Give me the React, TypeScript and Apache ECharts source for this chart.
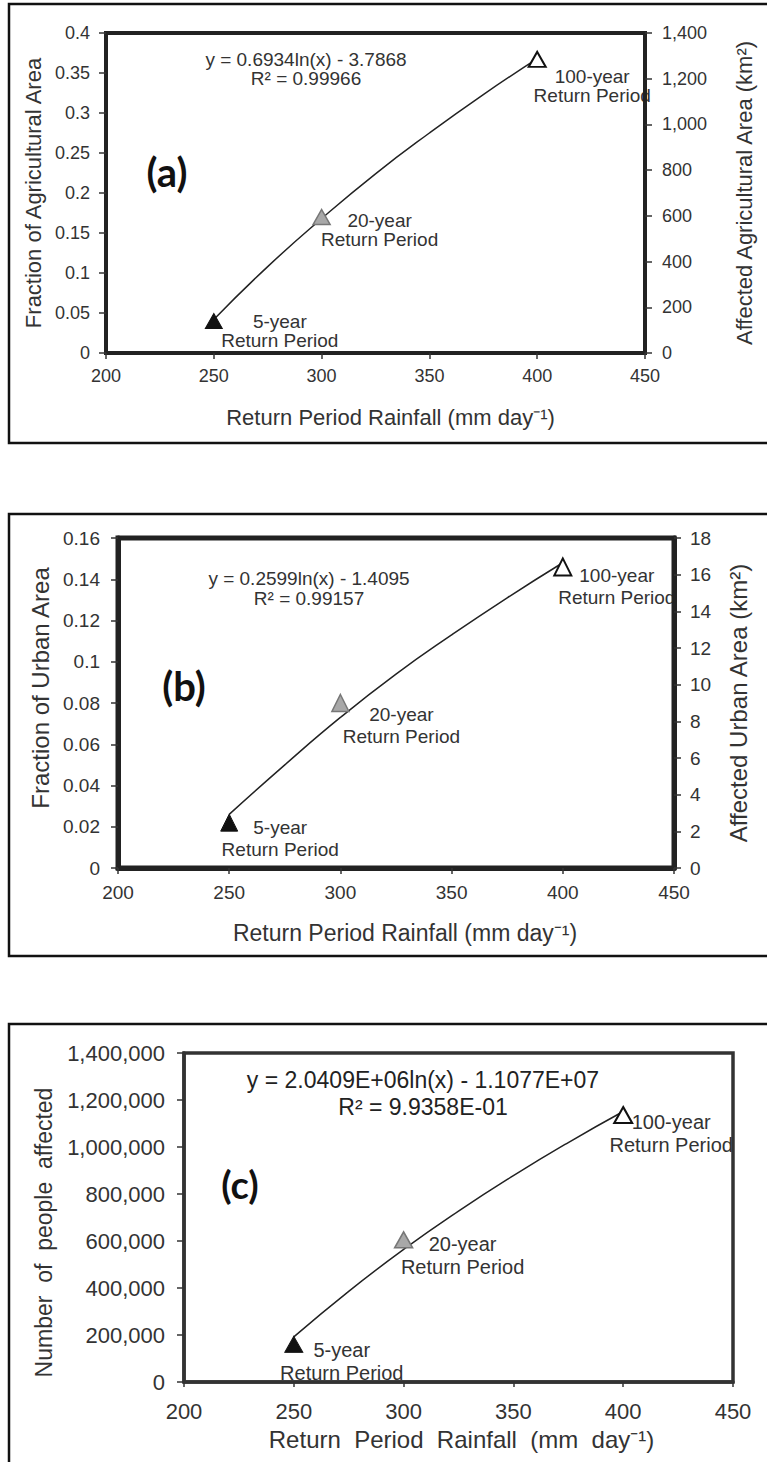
import React, { useEffect, useRef } from "react";
import * as echarts from "echarts";

// ---------- data ----------
const returnPeriods = ["5-year", "20-year", "100-year"];
const rainfall = [250, 300, 400];
const agriFraction = [0.04, 0.17, 0.367];
const urbanFraction = [0.022, 0.08, 0.146];
const peopleAffected = [160000, 605000, 1136000];

const trendX = [250, 275, 300, 325, 350, 375, 400];
const agriTrend = [0.042, 0.108, 0.168, 0.224, 0.275, 0.323, 0.368];
const urbanTrend = [0.026, 0.05, 0.073, 0.094, 0.113, 0.131, 0.148];
const peopleTrend = [192000, 386000, 564000, 727000, 878000, 1019000, 1151000];

const xTicks = { min: 200, max: 450, interval: 50 };
const agriAreaAxis = { min: 0, max: 1400, interval: 200 };
const urbanAreaAxis = { min: 0, max: 18, interval: 2 };

const equations = [
  "y = 0.6934ln(x) - 3.7868\nR² = 0.99966",
  "y = 0.2599ln(x) - 1.4095\nR² = 0.99157",
  "y = 2.0409E+06ln(x) - 1.1077E+07\nR² = 9.9358E-01",
];
const panelTags = ["(a)", "(b)", "(c)"];

// ---------- styles ----------
const FONT = "Liberation Sans, Arial, Helvetica, sans-serif";
const TAGFONT = "Lato, Open Sans, sans-serif";
const TXT = "#333";
const markerStyles = [
  { color: "#111", borderColor: "#111", borderWidth: 1, opacity: 1 },
  { color: "#a8a8a8", borderColor: "#777", borderWidth: 1.5, opacity: 1 },
  { color: "#fff", borderColor: "#111", borderWidth: 2, opacity: 1 },
];
const labelOffsets = [
  [[66, 9.5], [58, 12.5], [55, 26.5]],
  [[51, 15.5], [61, 22], [54, 20]],
  [[48, 17.5], [59, 15.5], [48, 18]],
];
const labelFont = [19, 19, 20];
const labelLH = [19, 22, 23];
const symbolSizes = [[17, 15], [17, 17], [18, 16]];

const fmtComma = (v: number) => Math.round(v).toLocaleString("en-US");

function buildScatter(vals: number[], p: number, xIdx: number, yIdx: number) {
  return {
    type: "scatter",
    xAxisIndex: xIdx,
    yAxisIndex: yIdx,
    z: 3,
    symbol: "triangle",
    symbolSize: symbolSizes[p],
    itemStyle: { opacity: 1 },
    data: vals.map((v, k) => ({
      name: returnPeriods[k],
      value: [rainfall[k], v],
      itemStyle: markerStyles[k],
      label: {
        show: true,
        position: "inside",
        offset: labelOffsets[p][k],
        formatter: `${returnPeriods[k]}\nReturn Period`,
        color: TXT,
        opacity: 1,
        textBorderWidth: 0,
        textBorderColor: "transparent",
        fontSize: labelFont[p],
        lineHeight: labelLH[p],
        fontFamily: FONT,
        align: "center",
        verticalAlign: "middle",
      },
    })),
  };
}

function buildTrend(vals: number[], xIdx: number, yIdx: number) {
  return {
    type: "line",
    xAxisIndex: xIdx,
    yAxisIndex: yIdx,
    z: 2,
    smooth: true,
    showSymbol: false,
    symbol: "none",
    lineStyle: { color: "#222", width: 1.5 },
    data: trendX.map((x, k) => [x, vals[k]]),
  };
}

function xAxis(grid: number, o: any) {
  return {
    gridIndex: grid,
    type: "value",
    ...xTicks,
    z: 6,
    axisLine: { show: true, onZero: false, lineStyle: { color: o.lineColor, width: o.lw } },
    axisTick: { show: true, inside: false, length: o.tickLen, lineStyle: { color: "#333", width: 1.5 } },
    axisLabel: { fontSize: o.fs, color: TXT, margin: o.margin, fontFamily: FONT },
    splitLine: { show: false },
    name: o.name,
    nameLocation: "middle",
    nameGap: o.nameGap,
    nameTextStyle: { fontSize: o.nfs, color: TXT, fontFamily: FONT, padding: o.pad },
  };
}

function yAxis(grid: number, o: any) {
  return {
    gridIndex: grid,
    type: "value",
    position: o.pos,
    min: o.min,
    max: o.max,
    interval: o.interval,
    z: 6,
    axisLine: { show: true, onZero: false, lineStyle: { color: o.lineColor, width: o.lw } },
    axisTick: { show: true, inside: false, length: 7, lineStyle: { color: "#333", width: 1.5 } },
    axisLabel: {
      fontSize: o.fs,
      color: TXT,
      margin: o.margin,
      fontFamily: FONT,
      formatter: o.fmt,
    },
    splitLine: { show: false },
    name: o.name,
    nameLocation: "middle",
    nameRotate: 90,
    nameGap: o.nameGap,
    nameTextStyle: { fontSize: o.nfs, color: TXT, fontFamily: FONT, padding: o.pad || 0 },
  };
}

export default function App() {
  const ref = useRef<HTMLDivElement>(null);
  useEffect(() => {
    if (!ref.current) return;
    const chart = echarts.init(ref.current, null, { renderer: "svg" });
    const option: any = {
      animation: false,
      backgroundColor: "#fff",
      grid: [
        { left: 106, top: 33, width: 539, height: 320, show: true, borderColor: "#222", borderWidth: 4, z: 6, containLabel: false },
        { left: 118, top: 538, width: 556, height: 330, show: true, borderColor: "#222", borderWidth: 5, z: 6, containLabel: false },
        { left: 184, top: 1053, width: 549, height: 329, show: true, borderColor: "#333", borderWidth: 3.5, z: 6, containLabel: false },
      ],
      xAxis: [
        xAxis(0, { lineColor: "#222", lw: 4, tickLen: 6, fs: 18, margin: 14, name: "Return Period Rainfall (mm day⁻¹)", nameGap: 53, nfs: 22, pad: [0, 0, 0, 30] }),
        xAxis(1, { lineColor: "#222", lw: 5, tickLen: 6, fs: 19, margin: 15, name: "Return Period Rainfall (mm day⁻¹)", nameGap: 53, nfs: 23, pad: [0, 0, 0, 18] }),
        xAxis(2, { lineColor: "#333", lw: 3.5, tickLen: 5, fs: 22, margin: 18, name: "Return\u00a0 Period\u00a0 Rainfall\u00a0 (mm\u00a0 day⁻¹)", nameGap: 45, nfs: 24, pad: [0, 0, 0, 6] }),
      ],
      yAxis: [
        yAxis(0, { pos: "left", min: 0, max: 0.4, interval: 0.05, lineColor: "#222", lw: 4, fs: 18, margin: 16, name: "Fraction of Agricultural Area", nameGap: 55, nfs: 22 }),
        yAxis(0, { pos: "right", ...agriAreaAxis, lineColor: "#222", lw: 4, fs: 18, margin: 17, fmt: fmtComma, name: "Affected Agricultural Area (km²)", nameGap: 88, nfs: 22 }),
        yAxis(1, { pos: "left", min: 0, max: 0.16, interval: 0.02, lineColor: "#222", lw: 5, fs: 19, margin: 18, name: "Fraction of Urban Area", nameGap: 63, nfs: 24, pad: [0, 0, 0, 30] }),
        yAxis(1, { pos: "right", ...urbanAreaAxis, lineColor: "#222", lw: 5, fs: 19, margin: 16, name: "Affected Urban Area (km²)", nameGap: 52, nfs: 24 }),
        yAxis(2, { pos: "left", min: 0, max: 1400000, interval: 200000, lineColor: "#333", lw: 3.5, fs: 22, margin: 19, fmt: fmtComma, name: "Number\u00a0 of\u00a0 people\u00a0 affected", nameGap: 129, nfs: 23, pad: [0, 30, 0, 0] }),
      ],
      series: [
        buildTrend(agriTrend, 0, 0),
        buildScatter(agriFraction, 0, 0, 0),
        buildTrend(urbanTrend, 1, 2),
        buildScatter(urbanFraction, 1, 1, 2),
        buildTrend(peopleTrend, 2, 4),
        buildScatter(peopleAffected, 2, 2, 4),
      ],
      graphic: [
        { type: "rect", shape: { x: 9, y: 4, width: 775, height: 439 }, style: { fill: "none", stroke: "#111", lineWidth: 2.5 }, z: 1 },
        { type: "rect", shape: { x: 9, y: 514, width: 775, height: 442 }, style: { fill: "none", stroke: "#111", lineWidth: 2.5 }, z: 1 },
        { type: "rect", shape: { x: 9, y: 1024, width: 775, height: 460 }, style: { fill: "none", stroke: "#111", lineWidth: 2.5 }, z: 1 },
        { type: "text", x: 306, y: 68.5, style: { text: equations[0], fontSize: 19, lineHeight: 19, fontFamily: FONT, fill: TXT, textAlign: "center", textVerticalAlign: "middle" }, z: 4 },
        { type: "text", x: 309, y: 588, style: { text: equations[1], fontSize: 19, lineHeight: 20, fontFamily: FONT, fill: TXT, textAlign: "center", textVerticalAlign: "middle" }, z: 4 },
        { type: "text", x: 423, y: 1093.5, style: { text: equations[2], fontSize: 23, lineHeight: 27, fontFamily: FONT, fill: "#222", textAlign: "center", textVerticalAlign: "middle" }, z: 4 },
        { type: "text", x: 167, y: 172, style: { text: panelTags[0], fontSize: 40, fontWeight: "bold", fontFamily: TAGFONT, fill: "#111", textAlign: "center", textVerticalAlign: "middle" }, z: 4 },
        { type: "text", x: 184, y: 686, style: { text: panelTags[1], fontSize: 40, fontWeight: "bold", fontFamily: TAGFONT, fill: "#111", textAlign: "center", textVerticalAlign: "middle" }, z: 4 },
        { type: "text", x: 240, y: 1184, style: { text: panelTags[2], fontSize: 38, fontWeight: "bold", fontFamily: TAGFONT, fill: "#111", textAlign: "center", textVerticalAlign: "middle" }, z: 4 },
      ],
    };
    chart.setOption(option);
    return () => chart.dispose();
  }, []);
  return (
    <div
      ref={ref}
      style={{ position: "absolute", left: 0, top: 0, width: 767, height: 1462, background: "#fff" }}
    />
  );
}
